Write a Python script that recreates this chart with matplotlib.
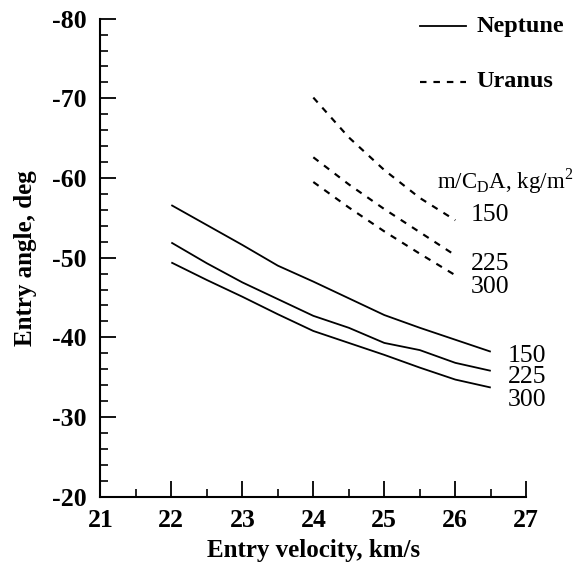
import matplotlib
matplotlib.use("Agg")
import matplotlib.pyplot as plt
from matplotlib.ticker import MultipleLocator

plt.rcParams['font.family'] = ['Liberation Serif', 'DejaVu Serif']
plt.rcParams['axes.unicode_minus'] = False
plt.rcParams['mathtext.fontset'] = 'custom'
plt.rcParams['mathtext.rm'] = 'Liberation Serif'

# Neptune curves (solid)
nep_v = [22.0, 22.5, 23.0, 23.5, 24.0, 24.5, 25.0, 25.5, 26.0, 26.5]
nep_150 = [-56.6, -54.1, -51.6, -49.0, -47.0, -44.9, -42.8, -41.2, -39.7, -38.2]
nep_225 = [-51.9, -49.3, -46.9, -44.8, -42.7, -41.2, -39.3, -38.4, -36.8, -35.8]
nep_300 = [-49.4, -47.2, -45.1, -42.9, -40.8, -39.3, -37.8, -36.2, -34.7, -33.7]

# Uranus curves (dashed)
ura_v = [24.0, 24.5, 25.0, 25.5, 26.0]
ura_150 = [-70.1, -65.1, -61.0, -57.5, -54.7]
ura_225 = [-62.6, -59.2, -56.1, -53.2, -50.3]
ura_300 = [-59.5, -56.3, -53.3, -50.5, -47.8]

ball_labels = ['150', '225', '300']
xticks = [21, 22, 23, 24, 25, 26, 27]
yticks = [-80, -70, -60, -50, -40, -30, -20]

fig = plt.figure(figsize=(5.8, 5.63), dpi=100)
ax = fig.add_axes([0.173, 0.1178, 0.7344, 0.849])

lw = 1.3
dash = (0, (3.0, 3.2))
for ys in (nep_150, nep_225, nep_300):
    ax.plot(nep_v, ys, color='black', lw=lw, solid_capstyle='butt')
for ys in (ura_150, ura_225, ura_300):
    ax.plot(ura_v, ys, color='black', lw=lw * 1.2, linestyle=dash)

ax.set_xlim(21, 27)
ax.set_ylim(-20, -80)
ax.set_xticks(xticks)
ax.set_yticks(yticks)
ax.set_xticklabels([str(t) for t in xticks])
ax.set_yticklabels([str(t) for t in yticks])
ax.xaxis.set_minor_locator(MultipleLocator(0.5))
ax.yaxis.set_minor_locator(MultipleLocator(2))

for s in ('top', 'right'):
    ax.spines[s].set_visible(False)
for s in ('left', 'bottom'):
    ax.spines[s].set_linewidth(1.5)

ax.tick_params(which='major', direction='in', length=11.5, width=1.3,
               labelsize=18.5, pad=9)
ax.tick_params(which='minor', direction='in', length=6, width=1.2)
ax.tick_params(axis='y', which='major', pad=10)
for lab in ax.get_xticklabels() + ax.get_yticklabels():
    lab.set_fontweight('bold')

ax.set_xlabel('Entry velocity, km/s', fontsize=18, fontweight='bold')
ax.set_ylabel('Entry angle, deg', fontsize=18, fontweight='bold')
ax.xaxis.set_label_coords(0.5, -0.088)
ax.yaxis.set_label_coords(-0.148, 0.5)

# Legend (manual)
ax.plot([25.5, 26.15], [-79.1, -79.1], color='black', lw=lw, clip_on=False)
ax.plot([25.5, 26.15], [-72.0, -72.0], color='black', lw=lw * 1.2,
        linestyle=dash, clip_on=False)
ax.text(26.3, -79.0, 'Neptune', fontsize=17.5, fontweight='bold',
        va='center', ha='left', clip_on=False)
ax.text(26.3, -72.1, 'Uranus', fontsize=17.5, fontweight='bold',
        va='center', ha='left', clip_on=False)

ax.text(25.74, -59.6, r'm/C$_{\mathregular{D}}$A, kg/m$^{\mathregular{2}}$',
        fontsize=16.5, va='center', ha='left', clip_on=False)

# Curve labels
ax.text(26.22, -55.3, ball_labels[0], fontsize=18.5, va='center', ha='left')
ax.text(26.22, -49.2, ball_labels[1], fontsize=18.5, va='center', ha='left')
ax.text(26.22, -46.3, ball_labels[2], fontsize=18.5, va='center', ha='left')

ax.text(26.74, -37.6, ball_labels[0], fontsize=18.5, va='center', ha='left', clip_on=False)
ax.text(26.74, -35.0, ball_labels[1], fontsize=18.5, va='center', ha='left', clip_on=False)
ax.text(26.74, -32.1, ball_labels[2], fontsize=18.5, va='center', ha='left', clip_on=False)

fig.savefig('out.png', dpi=100)
